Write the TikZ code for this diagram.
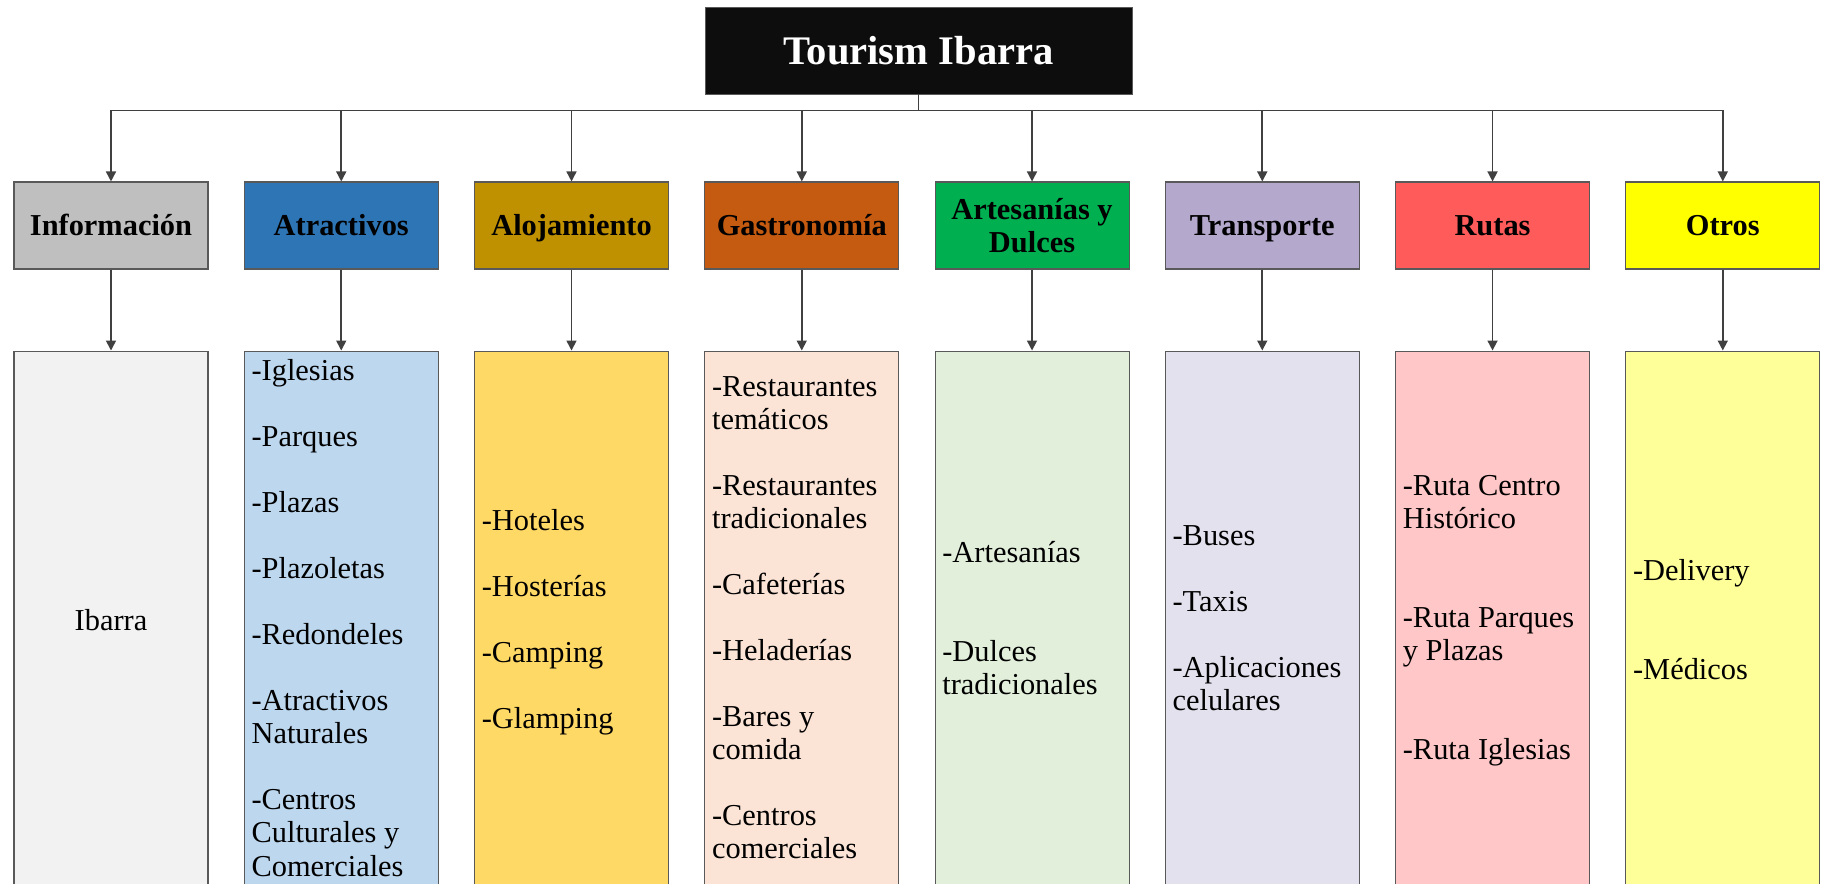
\documentclass[tikz,border=0pt]{standalone}
\usepackage{fontspec}
\setmainfont{Liberation Serif}
\usepackage{xcolor}
\usetikzlibrary{arrows.meta, positioning}

\definecolor{edgeC}{HTML}{595959}
\definecolor{infoC}{HTML}{BFBFBF}
\definecolor{infoL}{HTML}{F2F2F2}
\definecolor{atrC}{HTML}{2E75B6}
\definecolor{atrL}{HTML}{BDD7EE}
\definecolor{alojC}{HTML}{BF9000}
\definecolor{alojL}{HTML}{FFD966}
\definecolor{gastC}{HTML}{C55A11}
\definecolor{gastL}{HTML}{FBE4D6}
\definecolor{arteC}{HTML}{00B050}
\definecolor{arteL}{HTML}{E2EFDA}
\definecolor{tranC}{HTML}{B4A9CC}
\definecolor{tranL}{HTML}{E4E1EE}
\definecolor{rutaC}{HTML}{FF5B5B}
\definecolor{rutaL}{HTML}{FFC7C7}
\definecolor{otroC}{HTML}{FFFF00}
\definecolor{otroL}{HTML}{FFFF99}

\begin{document}
\begin{tikzpicture}[
        titlebox/.style={rectangle, draw=edgeC, fill=black!95, text=white, minimum width=8.54cm, minimum height=1.74cm, align=center, font=\fontsize{23.1}{26}\selectfont\bfseries},
        catbox/.style={rectangle, draw=edgeC, line width=0.6pt, minimum width=3.88cm, minimum height=1.74cm, align=center, font=\fontsize{17.3}{18.8}\selectfont\bfseries},
        oneline/.style={text height=15.5pt, text depth=4pt},
        listbox/.style={rectangle, draw=edgeC, line width=0.6pt, minimum width=3.88cm, minimum height=10.9cm},
        items/.style={inner sep=0pt, align=left, anchor=north west, font=\fontsize{17.3}{18.8}\selectfont, execute at begin node=\rule{0pt}{17pt}},
        arrow/.style={-{Triangle[length=0.2cm, width=0.2cm]}, draw=black!75, line width=0.9pt}
    ]
    \useasboundingbox (0,0) rectangle (36.54,-17.68);

    % Title
    \node (title) [titlebox] at (18.37,-1.01) {Tourism Ibarra};
    \coordinate (bus) at ([yshift=-0.32cm]title.south);

    % Categories
    \node (info) [catbox, oneline, fill=infoC] at (2.22,-4.51) {Información};
    \node (atr) [catbox, oneline, fill=atrC, right=0.704cm of info] {Atractivos};
    \node (aloj) [catbox, oneline, fill=alojC, right=0.704cm of atr] {Alojamiento};
    \node (gast) [catbox, oneline, fill=gastC, right=0.704cm of aloj] {Gastronomía};
    \node (arte) [catbox, fill=arteC, right=0.704cm of gast] {Artesanías y\\Dulces};
    \node (tran) [catbox, oneline, fill=tranC, right=0.704cm of arte] {Transporte};
    \node (ruta) [catbox, oneline, fill=rutaC, right=0.704cm of tran] {Rutas};
    \node (otro) [catbox, oneline, fill=otroC, right=0.704cm of ruta] {Otros};

    % Lists
    \node (info-list) [listbox, fill=infoL, below=1.62cm of info] {};
    \node (atr-list) [listbox, fill=atrL, below=1.62cm of atr] {};
    \node (aloj-list) [listbox, fill=alojL, below=1.62cm of aloj] {};
    \node (gast-list) [listbox, fill=gastL, below=1.62cm of gast] {};
    \node (arte-list) [listbox, fill=arteL, below=1.62cm of arte] {};
    \node (tran-list) [listbox, fill=tranL, below=1.62cm of tran] {};
    \node (ruta-list) [listbox, fill=rutaL, below=1.62cm of ruta] {};
    \node (otro-list) [listbox, fill=otroL, below=1.62cm of otro] {};

    % List texts
    \node (info-text) [items, anchor=base] at ([yshift=-5.59cm]info-list.north) {Ibarra};
    \node (atr-text) [items] at ([xshift=0.15cm, yshift=-0.17cm]atr-list.north west) {
        -Iglesias\\[18.8pt]
        -Parques\\[18.8pt]
        -Plazas\\[18.8pt]
        -Plazoletas\\[18.8pt]
        -Redondeles\\[18.8pt]
        -Atractivos\\Naturales\\[18.8pt]
        -Centros\\Culturales y\\Comerciales};
    \node (aloj-text) [items] at ([xshift=0.15cm, yshift=-3.17cm]aloj-list.north west) {
        -Hoteles\\[18.8pt]
        -Hosterías\\[18.8pt]
        -Camping\\[18.8pt]
        -Glamping};
    \node (gast-text) [items] at ([xshift=0.15cm, yshift=-0.51cm]gast-list.north west) {
        -Restaurantes\\temáticos\\[18.8pt]
        -Restaurantes\\tradicionales\\[18.8pt]
        -Cafeterías\\[18.8pt]
        -Heladerías\\[18.8pt]
        -Bares y\\comida\\[18.8pt]
        -Centros\\comerciales};
    \node (arte-text) [items] at ([xshift=0.15cm, yshift=-3.81cm]arte-list.north west) {
        -Artesanías\\[37.6pt]
        -Dulces\\tradicionales};
    \node (tran-text) [items] at ([xshift=0.15cm, yshift=-3.49cm]tran-list.north west) {
        -Buses\\[18.8pt]
        -Taxis\\[18.8pt]
        -Aplicaciones\\celulares};
    \node (ruta-text) [items] at ([xshift=0.15cm, yshift=-2.49cm]ruta-list.north west) {
        -Ruta Centro\\Histórico\\[37.6pt]
        -Ruta Parques\\y Plazas\\[37.6pt]
        -Ruta Iglesias};
    \node (otro-text) [items] at ([xshift=0.15cm, yshift=-4.17cm]otro-list.north west) {
        -Delivery\\[37.6pt]
        -Médicos};

    % Edges
    \draw[draw=black!75, line width=0.9pt] (title.south) -- (bus);
    \foreach \c in {info, atr, aloj, gast, arte, tran, ruta, otro} {
        \draw[arrow] (bus) -| (\c.north);
        \draw[arrow] (\c.south) -- (\c-list.north);
    }

\end{tikzpicture}
\end{document}
